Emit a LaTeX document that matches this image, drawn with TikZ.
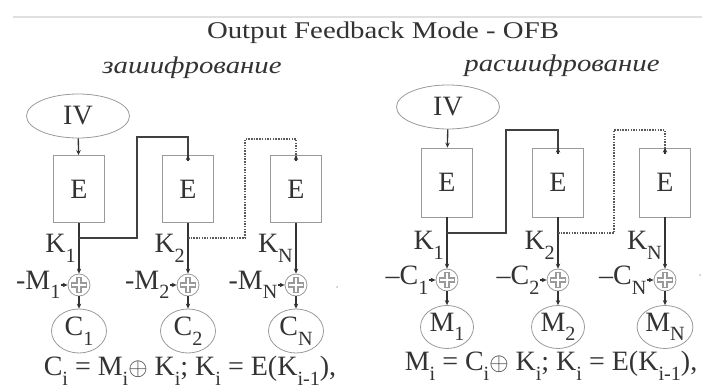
\documentclass[tikz,border=0pt]{standalone}
\usepackage{fontspec}
\setmainfont{Liberation Serif}
\newfontfamily\widefont[FakeStretch=1.2]{Liberation Serif}
\usetikzlibrary{arrows.meta,shapes.geometric}
\definecolor{ink}{HTML}{333333}
\definecolor{frame}{HTML}{9A9A9A}
\newcommand{\idx}[1]{\raisebox{-0.34em}{\scalebox{0.72}{#1}}}
\tikzset{
  lbl/.style={text=ink, inner sep=0pt, font=\fontsize{28}{30}\selectfont},
  ebox/.style={draw=frame, line width=0.8pt, minimum width=51pt, minimum height=67pt,
    text=ink, font=\fontsize{28}{30}\selectfont},
  ivnode/.style={ellipse, draw=frame, line width=0.8pt, minimum width=103pt,
    minimum height=44pt, inner sep=0pt, text=ink, font=\fontsize{28}{30}\selectfont},
  outnode/.style={ellipse, draw=frame, line width=0.8pt, minimum width=55pt,
    minimum height=44pt, inner sep=0pt, text=ink, font=\fontsize{28}{30}\selectfont},
  xornode/.style={circle, draw=frame, line width=0.8pt, minimum size=22pt, inner sep=0pt,
    path picture={
      \draw[frame, line width=5.5pt] (path picture bounding box.center) +(-8pt,0) -- +(8pt,0)
        (path picture bounding box.center) +(0,-8pt) -- +(0,8pt);
      \draw[white, line width=2.6pt] (path picture bounding box.center) +(-7pt,0) -- +(7pt,0)
        (path picture bounding box.center) +(0,-7pt) -- +(0,7pt);}},
  arr/.style={draw=black!80, line width=1.3pt, -{Stealth[length=5pt,width=4.5pt]}},
  fbline/.style={draw=black!75, line width=1.8pt},
  dotline/.style={draw=black!65, line width=1.4pt, dash pattern=on 1.5pt off 1.2pt}
}
\begin{document}
\begin{tikzpicture}[x=1pt,y=-1pt]
\useasboundingbox (0,0) rectangle (702,390);
% header
\draw[black!12, line width=1.5pt] (13,17) -- (702,17);
\node[text=ink, font=\widefont\fontsize{24}{28}\selectfont] (title) at (383,33) {Output Feedback Mode - OFB};
\node[text=ink, font=\widefont\itshape\fontsize{24}{28}\selectfont] (encr) at (192,68) {зашифрование};
\node[text=ink, font=\widefont\itshape\fontsize{24}{28}\selectfont] (decr) at (562,66) {расшифрование};

% left: encryption
\node[ivnode] (ivA) at (78,116) {IV};
\foreach \i/\xx/\s in {1/79/1, 2/188/2, 3/296/N} {
  \node[ebox] (eA\i) at (\xx,189) {E};
  \node[xornode] (xA\i) at (\xx,285) {};
  \node[outnode] (cA\i) at (\xx,331) {C\idx{\s}};
  \node[lbl, anchor=east] (mA\i) at ([xshift=-7pt]xA\i.west) {-M\idx{\s}};
  \node[lbl, anchor=base east] (kA\i) at (\xx-3,253) {K\idx{\s}};
  \draw[arr] (eA\i) -- (xA\i);
  \draw[arr] (mA\i.east) -- (xA\i);
  \draw[arr] (xA\i) -- (cA\i);
}
\draw[arr] (ivA) -- (eA1);
\coordinate (tA1) at (79,238);
\coordinate (tA2) at (188,238);
\coordinate (uA1) at (137,137);
\coordinate (uA2) at (245,139);
\draw[fbline] (tA1) -| (uA1) -| ([yshift=-5pt]eA2.north);
\draw[arr, line width=1.8pt] ([yshift=-6pt]eA2.north) -- (eA2.north);
\draw[dotline] (tA2) -| (uA2) -| ([yshift=-5pt]eA3.north);
\draw[arr] ([yshift=-6pt]eA3.north) -- (eA3.north);
\node[text=ink, font=\fontsize{28}{30}\selectfont] (fA) at (190,371)
  {C\idx{i} = M\idx{i}$\oplus$ K\idx{i}; K\idx{i} = E(K\idx{i-1}),};
\fill[black!25] (337,287) circle (1pt);

% right: decryption
\node[ivnode] (ivB) at (448,107) {IV};
\foreach \i/\xx/\s in {1/447/1, 2/558/2, 3/665/N} {
  \node[ebox, minimum height=69pt] (eB\i) at (\xx,182.5) {E};
  \node[xornode] (xB\i) at (\xx,280) {};
  \node[outnode, minimum width=53pt, minimum height=43pt] (cB\i) at (\xx,327) {M\idx{\s}};
  \node[lbl, anchor=east] (mB\i) at ([xshift=-7pt]xB\i.west) {–C\idx{\s}};
  \node[lbl, anchor=base east] (kB\i) at (\xx-3,250) {K\idx{\s}};
  \draw[arr] (eB\i) -- (xB\i);
  \draw[arr] (mB\i.east) -- (xB\i);
  \draw[arr] (xB\i) -- (cB\i);
}
\draw[arr] (ivB) -- (eB1);
\coordinate (tB1) at (447,233);
\coordinate (tB2) at (558,233);
\coordinate (uB1) at (506,130);
\coordinate (uB2) at (614,130);
\draw[fbline, line width=1.5pt] (tB1) -| (uB1) -| ([yshift=-5pt]eB2.north);
\draw[arr] ([yshift=-6pt]eB2.north) -- (eB2.north);
\draw[dotline] (tB2) -| (uB2) -| ([yshift=-5pt]eB3.north);
\draw[arr] ([yshift=-6pt]eB3.north) -- (eB3.north);
\node[text=ink, font=\fontsize{28}{30}\selectfont] (fB) at (551,366)
  {M\idx{i} = C\idx{i}$\oplus$ K\idx{i}; K\idx{i} = E(K\idx{i-1}),};
\fill[black!25] (700,275) circle (1pt);
\end{tikzpicture}
\end{document}
